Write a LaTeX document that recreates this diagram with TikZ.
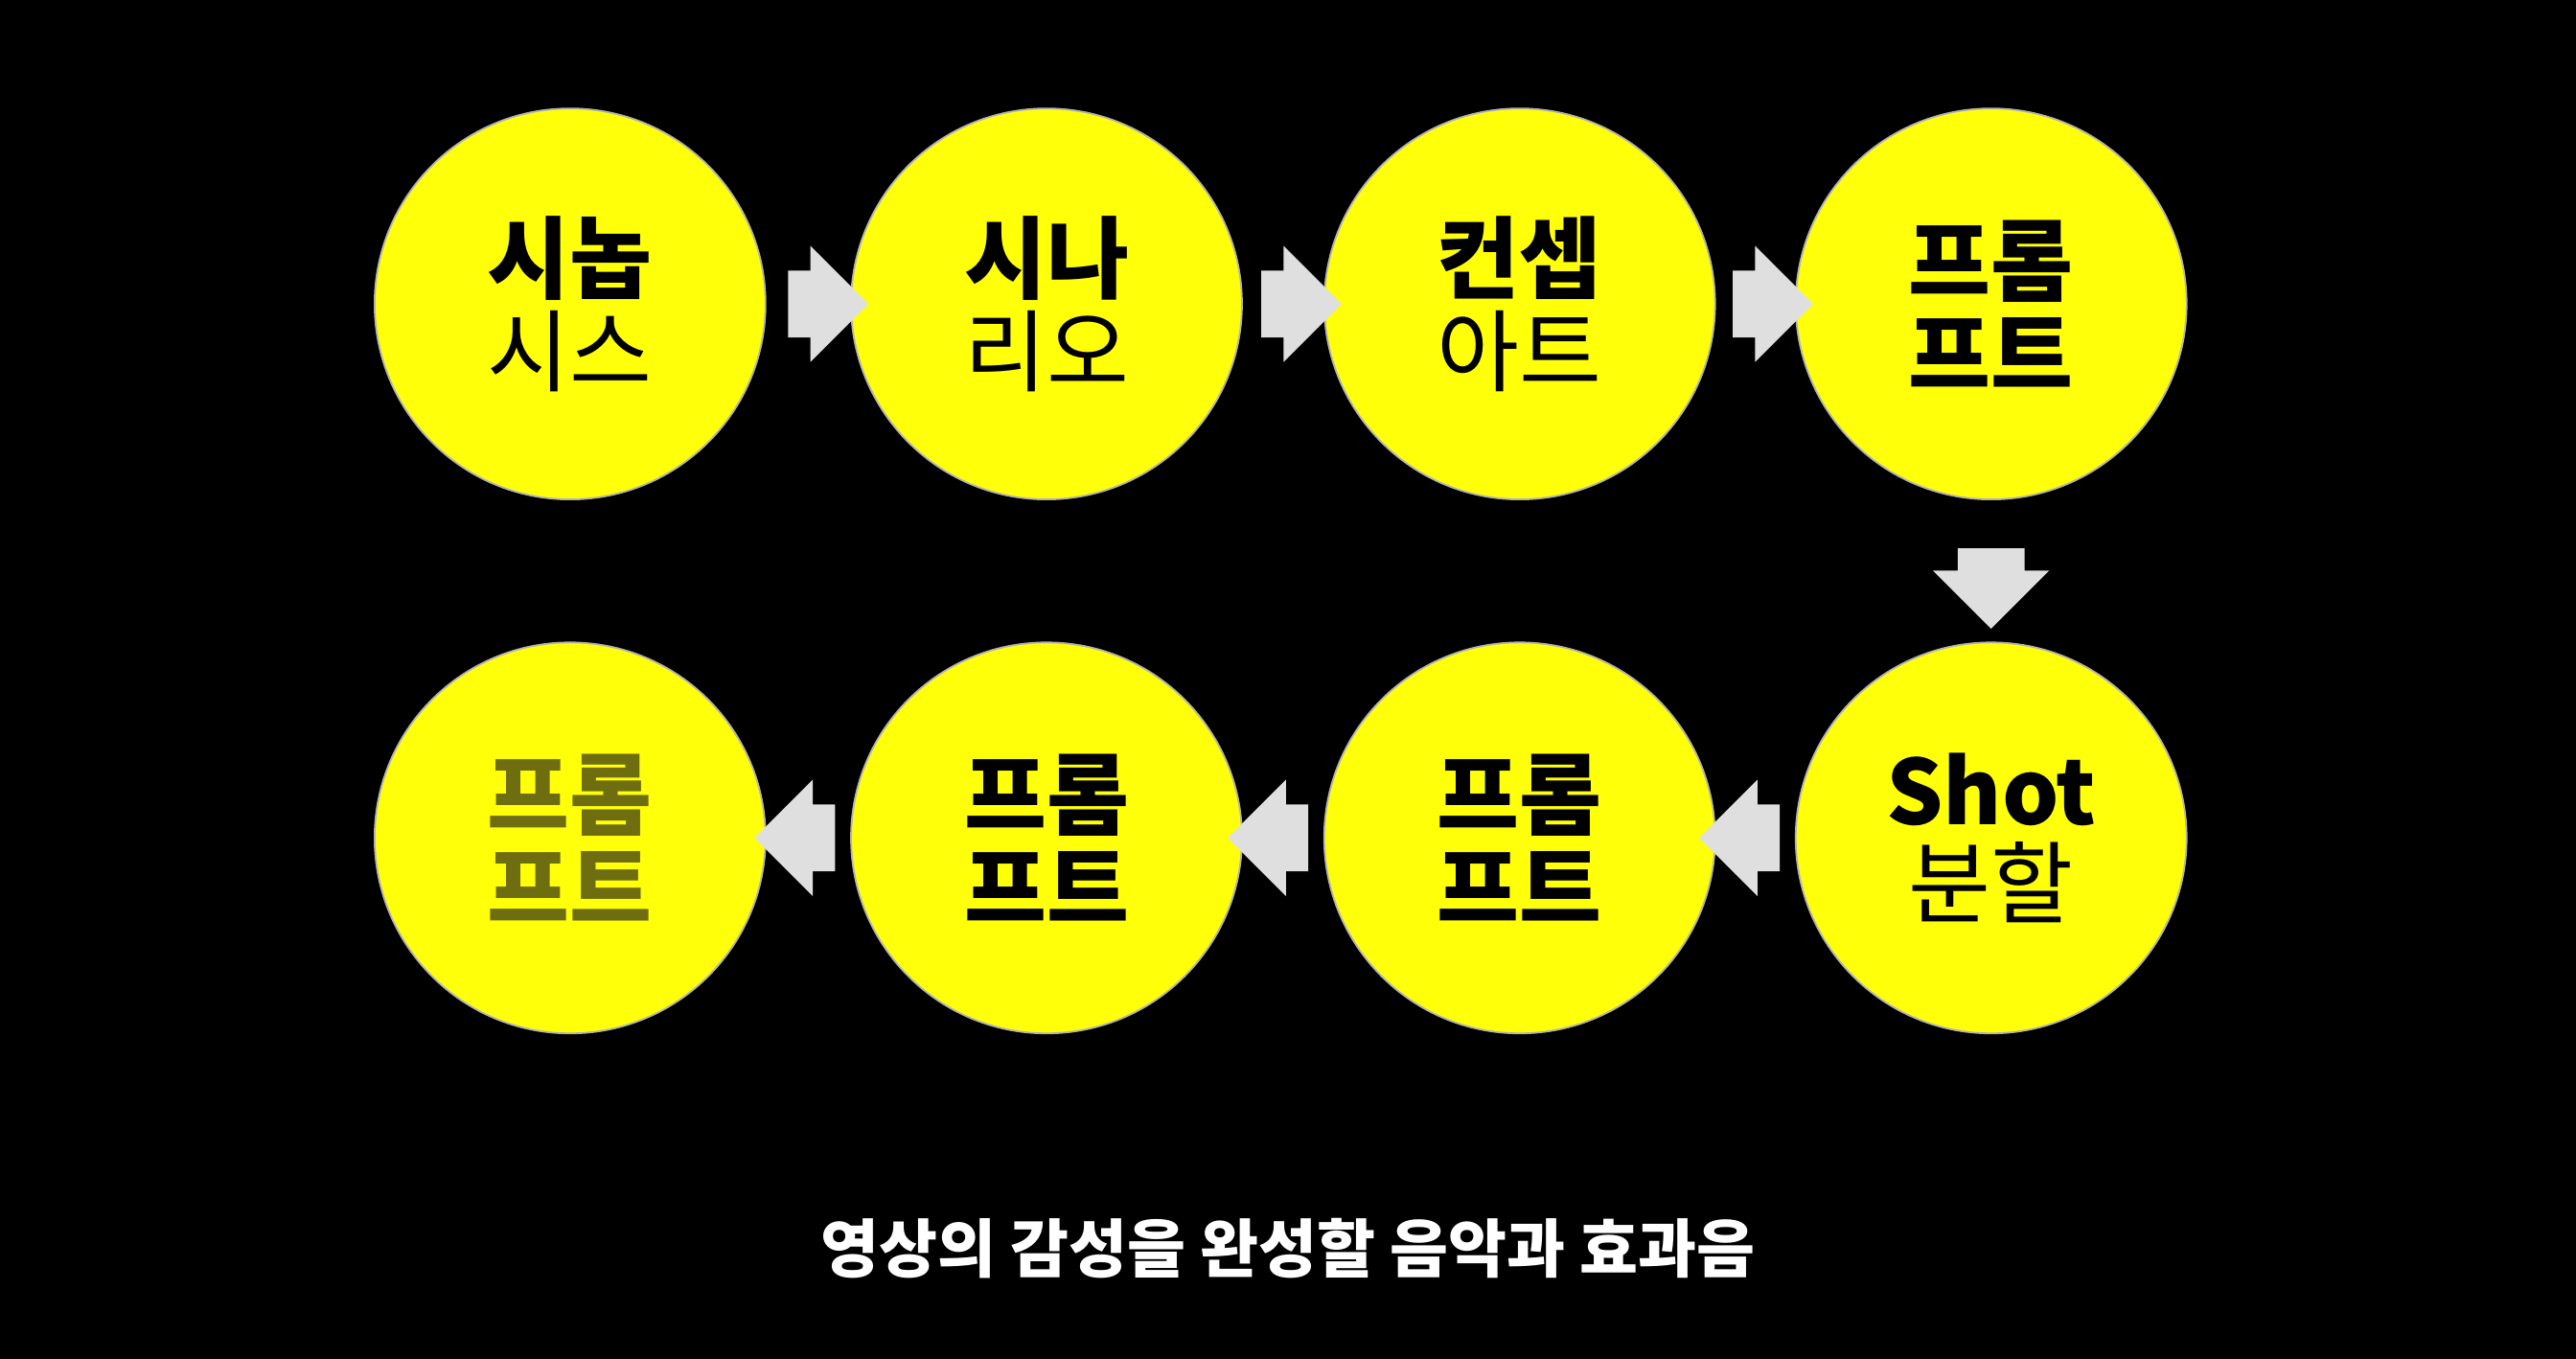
\documentclass[tikz,border=0pt]{standalone}
\usepackage{fontspec}
\newfontfamily\kr{Noto Sans CJK KR}
\usetikzlibrary{shapes.arrows}
\definecolor{stepyellow}{HTML}{FFFF0A}
\definecolor{fadetext}{HTML}{6E6E10}
\tikzset{
  stage/.style={circle,fill=stepyellow,draw=gray!60,line width=0.6pt,minimum size=4.76cm,
    font=\kr\fontsize{31}{34}\selectfont,align=center,text=black},
  flow/.style={single arrow,fill=gray!25,draw=none,minimum height=0.98cm,
    inner xsep=0pt,inner ysep=0.4cm,single arrow head extend=0.3cm,
    single arrow tip angle=90},
}
\begin{document}
\begin{tikzpicture}[x=0.02cm,y=-0.02cm]
  \fill[black] (0,0) rectangle (1568,827);

  \node[stage] (synopsis) at (347,185) {\bfseries 시놉\\[-2pt] 시스};
  \node[stage] (scenario) at (637,185) {\bfseries 시나\\[-2pt] 리오};
  \node[stage] (concept) at (925,185) {\bfseries 컨셉\\[-2pt] 아트};
  \node[stage] (prompta) at (1212,185) {\bfseries 프롬\\[-2pt] \bfseries 프트};
  \node[stage] (shot) at (1212,510) {\bfseries Shot\\[-2pt] 분할};
  \node[stage] (promptb) at (925,510) {\bfseries 프롬\\[-2pt] \bfseries 프트};
  \node[stage] (promptc) at (637,510) {\bfseries 프롬\\[-2pt] \bfseries 프트};
  \node[stage,text=fadetext] (promptd) at (347,510) {\bfseries 프롬\\[-2pt] \bfseries 프트};

  % arrows between the stages
  \node[flow] (a1) at (494,185) {};
  \node[flow] (a2) at (782,185) {};
  \node[flow] (a3) at (1069,185) {};
  \node[flow,rotate=-90] (a4) at (1212,348) {};
  \node[flow,rotate=180] (a5) at (1069,510) {};
  \node[flow,rotate=180] (a6) at (782,510) {};
  \node[flow,rotate=180] (a7) at (494,510) {};

  \node[text=white,font=\kr\bfseries\fontsize{22}{25}\selectfont] (caption) at (784,760)
    {영상의 감성을 완성할 음악과 효과음};
\end{tikzpicture}
\end{document}
